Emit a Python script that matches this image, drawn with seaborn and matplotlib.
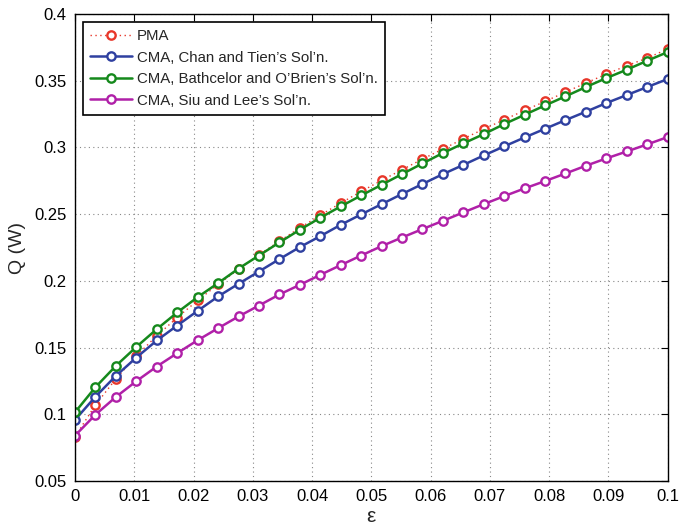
import numpy as np
import pandas as pd
import matplotlib
matplotlib.use("Agg")
import matplotlib.pyplot as plt
import seaborn as sns

eps = np.linspace(0, 0.1, 30)

pma = [0.0832, 0.1070, 0.1265, 0.1438, 0.1588, 0.1725, 0.1853, 0.1973, 0.2087, 0.2195,
       0.2298, 0.2397, 0.2492, 0.2583, 0.2670, 0.2753, 0.2833, 0.2913, 0.2988, 0.3065,
       0.3138, 0.3208, 0.3278, 0.3345, 0.3415, 0.3483, 0.3550, 0.3613, 0.3670, 0.3738]
chan_tien = [0.0958, 0.1132, 0.1288, 0.1425, 0.1553, 0.1665, 0.1775, 0.1883, 0.1978, 0.2070,
             0.2163, 0.2253, 0.2335, 0.2420, 0.2498, 0.2575, 0.2651, 0.2726, 0.2800, 0.2869,
             0.2940, 0.3008, 0.3075, 0.3140, 0.3205, 0.3268, 0.3333, 0.3393, 0.3453, 0.3513]
batchelor = [0.1015, 0.1203, 0.1363, 0.1505, 0.1638, 0.1763, 0.1878, 0.1983, 0.2092, 0.2190,
             0.2288, 0.2383, 0.2473, 0.2558, 0.2640, 0.2720, 0.2800, 0.2880, 0.2958, 0.3030,
             0.3100, 0.3175, 0.3245, 0.3315, 0.3383, 0.3453, 0.3520, 0.3583, 0.3650, 0.3715]
siu_lee = [0.0840, 0.0997, 0.1130, 0.1248, 0.1358, 0.1458, 0.1555, 0.1645, 0.1733, 0.1815,
           0.1898, 0.1970, 0.2045, 0.2118, 0.2190, 0.2260, 0.2325, 0.2388, 0.2450, 0.2513,
           0.2575, 0.2635, 0.2693, 0.2748, 0.2805, 0.2863, 0.2918, 0.2970, 0.3023, 0.3078]

labels = ["PMA",
          "CMA, Chan and Tien\u2019s Sol\u2019n.",
          "CMA, Bathcelor and O\u2019Brien\u2019s Sol\u2019n.",
          "CMA, Siu and Lee\u2019s Sol\u2019n."]
colors = ["#e8372a", "#2f40a0", "#15891c", "#b020a8"]
styles = [(0, (1, 2.5)), "-", "-", "-"]
widths = [1.0, 1.8, 1.8, 1.8]
series = [pma, chan_tien, batchelor, siu_lee]

sns.set_style("white")
plt.rcParams["font.family"] = ["Liberation Sans", "DejaVu Sans"]

fig = plt.figure(figsize=(6.82, 5.30), dpi=100)
ax = fig.add_axes([0.110, 0.0925, 0.869, 0.881])

for lab, vals, col, ls, lw in zip(labels, series, colors, styles, widths):
    df = pd.DataFrame({"eps": eps, "Q": vals})
    sns.lineplot(data=df, x="eps", y="Q", ax=ax, color=col, linestyle=ls,
                 linewidth=lw, marker="o", markersize=6, markerfacecolor="white",
                 markeredgecolor=col, markeredgewidth=1.7, label=lab)

ax.set_xlim(0, 0.1)
ax.set_ylim(0.05, 0.4)
ax.set_xticks(np.arange(0, 0.1001, 0.01))
ax.set_xticklabels(["0"] + [f"{v:.2f}" for v in np.arange(0.01, 0.1001, 0.01)[:-1]] + ["0.1"])
ax.set_yticks(np.arange(0.05, 0.4001, 0.05))
ax.set_yticklabels(["0.05", "0.1", "0.15", "0.2", "0.25", "0.3", "0.35", "0.4"])
ax.grid(True, linestyle=(0, (1, 3)), color="#888888", linewidth=0.8)
ax.tick_params(direction="in", top=True, right=True, length=5, width=0.8,
               labelsize=12, colors="black", pad=6)
for s in ax.spines.values():
    s.set_color("black")
    s.set_linewidth(1.0)

ax.set_xlabel("\u03b5", fontsize=15, labelpad=2)
ax.set_ylabel("Q (W)", fontsize=14, labelpad=6)

leg = ax.legend(loc="upper left", fontsize=10.8, frameon=True, fancybox=False,
                edgecolor="black", framealpha=1, borderaxespad=0.5,
                handlelength=2.8, handletextpad=0.3, labelspacing=0.5, borderpad=0.5)
leg.get_frame().set_linewidth(1.2)

fig.savefig("out.png", dpi=100)
